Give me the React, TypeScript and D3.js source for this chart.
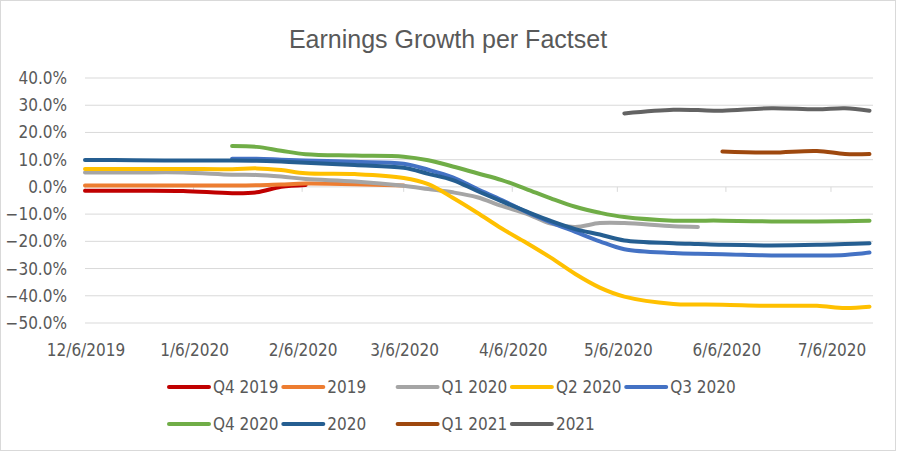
import * as d3 from "d3";
import { useEffect, useRef } from "react";

// weekly-ish FactSet snapshot dates
const dates = [
  "2019-12-06", "2019-12-20", "2020-01-03", "2020-01-17", "2020-01-24",
  "2020-01-31", "2020-02-07", "2020-02-21", "2020-03-06", "2020-03-13",
  "2020-03-20", "2020-03-27", "2020-04-03", "2020-04-10", "2020-04-17",
  "2020-04-24", "2020-05-01", "2020-05-08", "2020-05-22", "2020-05-29",
  "2020-06-05", "2020-06-19", "2020-07-02", "2020-07-10", "2020-07-17",
];

const seriesNames = ["Q4 2019", "2019", "Q1 2020", "Q2 2020", "Q3 2020", "Q4 2020", "2020", "Q1 2021", "2021"];
const seriesColors = ["#C00000", "#ED7D31", "#A5A5A5", "#FFC000", "#4472C4", "#70AD47", "#255E91", "#9E480E", "#636363"];

const _ = null;
const q4_2019 = [-1.4, -1.4, -1.5, -2.3, -2.0, 0.0, 0.7, _, _, _, _, _, _, _, _, _, _, _, _, _, _, _, _, _, _];
const y2019 = [0.5, 0.5, 0.5, 0.5, 0.6, 0.9, 1.2, 1.0, 0.5, _, _, _, _, _, _, _, _, _, _, _, _, _, _, _, _];
const q1_2020 = [5.3, 5.3, 5.3, 4.5, 4.4, 3.8, 2.9, 2.0, 0.4, -0.8, -2.0, -3.8, -7.0, -9.8, -13.5, -14.7, -13.3, -13.3, -14.5, -14.7, _, _, _, _, _];
const q2_2020 = [6.6, 6.6, 6.6, 6.5, 6.8, 6.2, 5.0, 4.7, 3.3, 1.0, -4.0, -9.5, -15.3, -20.5, -26.0, -32.0, -37.0, -40.3, -43.0, -43.2, -43.3, -43.7, -43.7, -44.5, -44.0];
const q3_2020 = [_, _, _, 10.3, 10.3, 10.0, 9.7, 9.2, 8.5, 6.3, 3.5, -0.8, -4.8, -9.2, -13.0, -16.5, -20.0, -22.9, -24.3, -24.6, -24.7, -25.2, -25.2, -25.0, -24.1];
const q4_2020 = [_, _, _, 15.0, 14.7, 13.3, 12.0, 11.5, 11.1, 9.8, 7.5, 5.0, 2.5, -0.8, -4.2, -7.3, -9.5, -11.1, -12.4, -12.4, -12.4, -12.7, -12.7, -12.6, -12.4];
const y2020 = [9.9, 9.8, 9.7, 9.7, 9.6, 9.3, 8.9, 8.0, 7.0, 4.8, 2.5, -1.5, -5.3, -9.0, -12.5, -15.5, -17.5, -19.7, -20.7, -21.0, -21.3, -21.5, -21.3, -21.0, -20.7];
const q1_2021 = [_, _, _, _, _, _, _, _, _, _, _, _, _, _, _, _, _, _, _, _, 13.0, 12.6, 13.2, 12.1, 12.1];
const y2021 = [_, _, _, _, _, _, _, _, _, _, _, _, _, _, _, _, _, 27.0, 28.3, 28.2, 28.0, 28.9, 28.5, 28.9, 28.0];

const seriesValues = [q4_2019, y2019, q1_2020, q2_2020, q3_2020, q4_2020, y2020, q1_2021, y2021];

const yTicks = [40, 30, 20, 10, 0, -10, -20, -30, -40, -50];
const xTicks = ["2019-12-06", "2020-01-06", "2020-02-06", "2020-03-06", "2020-04-06", "2020-05-06", "2020-06-06", "2020-07-06"];

const W = 898;
const H = 452;
const labelFont = "'Liberation Sans Narrow', 'DejaVu Sans Condensed', sans-serif";
const textColor = "#595959";

const parse = d3.utcParse("%Y-%m-%d");

export default function App() {
  const svgRef = useRef<SVGSVGElement | null>(null);

  useEffect(() => {
    document.body.style.margin = "0";
    const svg = d3.select(svgRef.current);
    svg.selectAll("*").remove();

    const x = d3
      .scaleUtc()
      .domain([parse("2019-12-06")!, parse("2020-07-18")!])
      .range([85, 873]);
    const y = d3.scaleLinear().domain([-50, 40]).range([323, 78]);

    svg
      .append("rect")
      .attr("x", 0.5)
      .attr("y", 0.5)
      .attr("width", W - 3)
      .attr("height", H - 2)
      .attr("fill", "#fff")
      .attr("stroke", "#D9D9D9");

    svg
      .append("text")
      .attr("x", 448)
      .attr("y", 48)
      .attr("text-anchor", "middle")
      .attr("fill", textColor)
      .style("font", "25px 'Liberation Sans', sans-serif")
      .text("Earnings Growth per Factset");

    // gridlines + y labels
    svg
      .append("g")
      .selectAll("line")
      .data(yTicks)
      .join("line")
      .attr("x1", 85)
      .attr("x2", 873)
      .attr("y1", (d) => y(d))
      .attr("y2", (d) => y(d))
      .attr("stroke", "#D9D9D9")
      .attr("stroke-width", 1);

    svg
      .append("g")
      .selectAll("text")
      .data(yTicks)
      .join("text")
      .attr("x", 67)
      .attr("y", (d) => y(d))
      .attr("dy", "0.35em")
      .attr("text-anchor", "end")
      .attr("fill", textColor)
      .style("font", `17px ${labelFont}`)
      .text((d) => d3.format(".1f")(d) + "%");

    // x axis at 0 with ticks hanging down
    const ax = svg.append("g");
    ax.selectAll("line")
      .data(xTicks)
      .join("line")
      .attr("x1", (d) => x(parse(d)!))
      .attr("x2", (d) => x(parse(d)!))
      .attr("y1", y(0))
      .attr("y2", y(0) + 5)
      .attr("stroke", "#D9D9D9");

    svg
      .append("g")
      .selectAll("text")
      .data(xTicks)
      .join("text")
      .attr("x", (d) => x(parse(d)!) + 1)
      .attr("y", 356)
      .attr("text-anchor", "middle")
      .attr("fill", textColor)
      .style("font", `17px ${labelFont}`)
      .text((d) => d3.utcFormat("%-m/%-d/%Y")(parse(d)!));

    const line = d3
      .line<number | null>()
      .defined((d) => d != null)
      .x((_d, i) => x(parse(dates[i])!))
      .y((d) => y(d as number))
      .curve(d3.curveCatmullRom.alpha(0.5));

    svg
      .append("g")
      .selectAll("path")
      .data(seriesValues)
      .join("path")
      .attr("d", (d) => line(d))
      .attr("fill", "none")
      .attr("stroke", (_d, i) => seriesColors[i])
      .attr("stroke-width", 4)
      .attr("stroke-linecap", "round")
      .attr("stroke-linejoin", "round");

    // legend, 5 per row
    const lg = svg
      .append("g")
      .selectAll("g")
      .data(seriesNames)
      .join("g")
      .attr("transform", (_d, i) => `translate(${169 + (i % 5) * 114.3},${387 + Math.floor(i / 5) * 37})`);

    lg.append("line")
      .attr("x1", 0)
      .attr("x2", 40)
      .attr("stroke", (_d, i) => seriesColors[i])
      .attr("stroke-width", 4)
      .attr("stroke-linecap", "round");

    lg.append("text")
      .attr("x", 44)
      .attr("dy", "0.35em")
      .attr("fill", textColor)
      .style("font", `17px ${labelFont}`)
      .text((d) => d);
  }, []);

  return <svg ref={svgRef} width={W} height={H} style={{ display: "block" }} />;
}
